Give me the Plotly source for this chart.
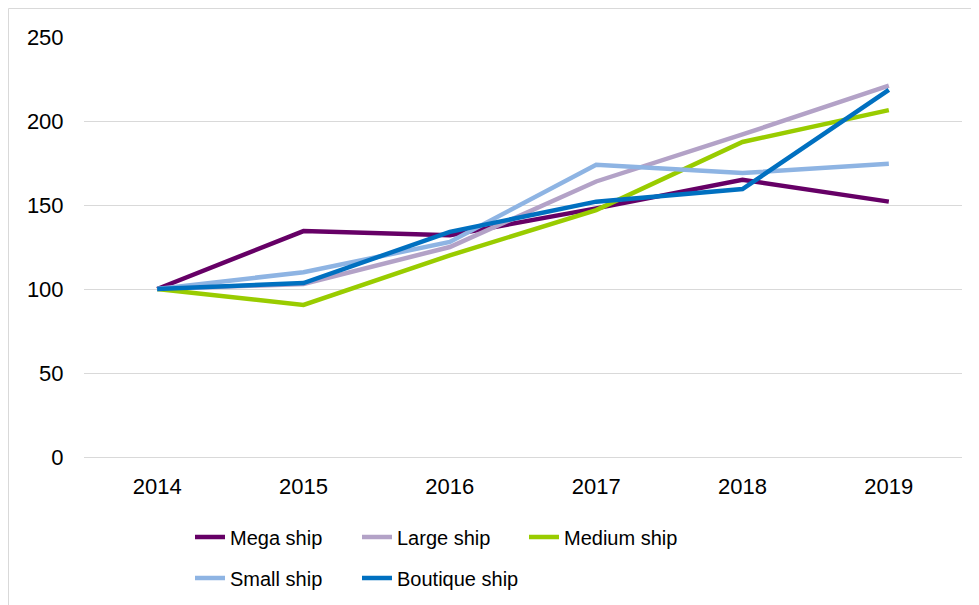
import plotly.graph_objects as go

years = ["2014", "2015", "2016", "2017", "2018", "2019"]
mega = [100, 134.5, 132, 148, 165, 152]
large = [100, 103, 125, 164, 192, 221]
medium = [100, 90.5, 120, 147, 187.5, 206.5]
small = [100, 110, 128, 174, 169, 174.5]
boutique = [100, 103.5, 134, 152, 159.5, 218.5]

names = ["Mega ship", "Large ship", "Medium ship", "Small ship", "Boutique ship"]
colors = ["#660066", "#B3A2C7", "#99CC00", "#8EB4E3", "#0070C0"]
series = [mega, large, medium, small, boutique]
legend_ids = ["legend", "legend", "legend", "legend2", "legend2"]

# page has an 8px body margin; figure sized to fit the window
OFF = 8
W, H = 979 - OFF, 605 - OFF
L, T = 84 - OFF, 37 - OFF
pw, ph = 962 - 84, 457 - 37
R, B = W - L - pw, H - T - ph

fig = go.Figure()
for n, c, s, lg in zip(names, colors, series, legend_ids):
    fig.add_trace(go.Scatter(x=years, y=s, name=n, mode="lines",
                             line=dict(color=c, width=4.5), legend=lg))

tickfont = dict(family="Liberation Sans, Arial, sans-serif", size=22, color="#000000")
legfont = dict(family="Liberation Sans, Arial, sans-serif", size=20, color="#000000")

def px_x(x):  # page px -> paper fraction
    return (x - OFF - L) / pw

def px_y(y):
    return (T + ph - (y - OFF)) / ph

def cx(x):  # page px -> container fraction
    return (x - OFF) / W

def cy(y):
    return 1 - (y - OFF) / H

fig.update_layout(
    width=W, height=H,
    margin=dict(l=L, r=R, t=T, b=B, pad=0),
    paper_bgcolor="white", plot_bgcolor="white",
    font=tickfont,
    xaxis=dict(type="category", range=[-0.5, 5.5], showgrid=False, showline=False,
               zeroline=False, automargin=False,
               ticks="outside", ticklen=10, tickcolor="rgba(0,0,0,0)",
               tickfont=tickfont),
    yaxis=dict(range=[0, 250], dtick=50, showgrid=True, gridcolor="#D9D9D9",
               gridwidth=1.3, zeroline=True, zerolinecolor="#D9D9D9", zerolinewidth=1.3,
               showline=False, ticks="outside", ticklen=15, automargin=False,
               tickcolor="rgba(0,0,0,0)", tickfont=tickfont),
    legend=dict(orientation="h", xref="container", yref="container",
                x=cx(190), y=cy(537), yanchor="middle",
                xanchor="left", entrywidth=122, entrywidthmode="pixels",
                font=legfont, bgcolor="rgba(0,0,0,0)"),
    legend2=dict(orientation="h", xref="container", yref="container",
                 x=cx(190), y=cy(578), yanchor="middle",
                 xanchor="left", entrywidth=122, entrywidthmode="pixels",
                 font=legfont, bgcolor="rgba(0,0,0,0)"),
    shapes=[dict(type="rect", xref="paper", yref="paper",
                 x0=px_x(OFF + 0.5), x1=px_x(1000), y0=px_y(620), y1=px_y(OFF + 0.5),
                 line=dict(color="#D9D9D9", width=1), fillcolor="rgba(0,0,0,0)",
                 layer="below")],
    showlegend=True,
)

fig.write_html("out.html")
